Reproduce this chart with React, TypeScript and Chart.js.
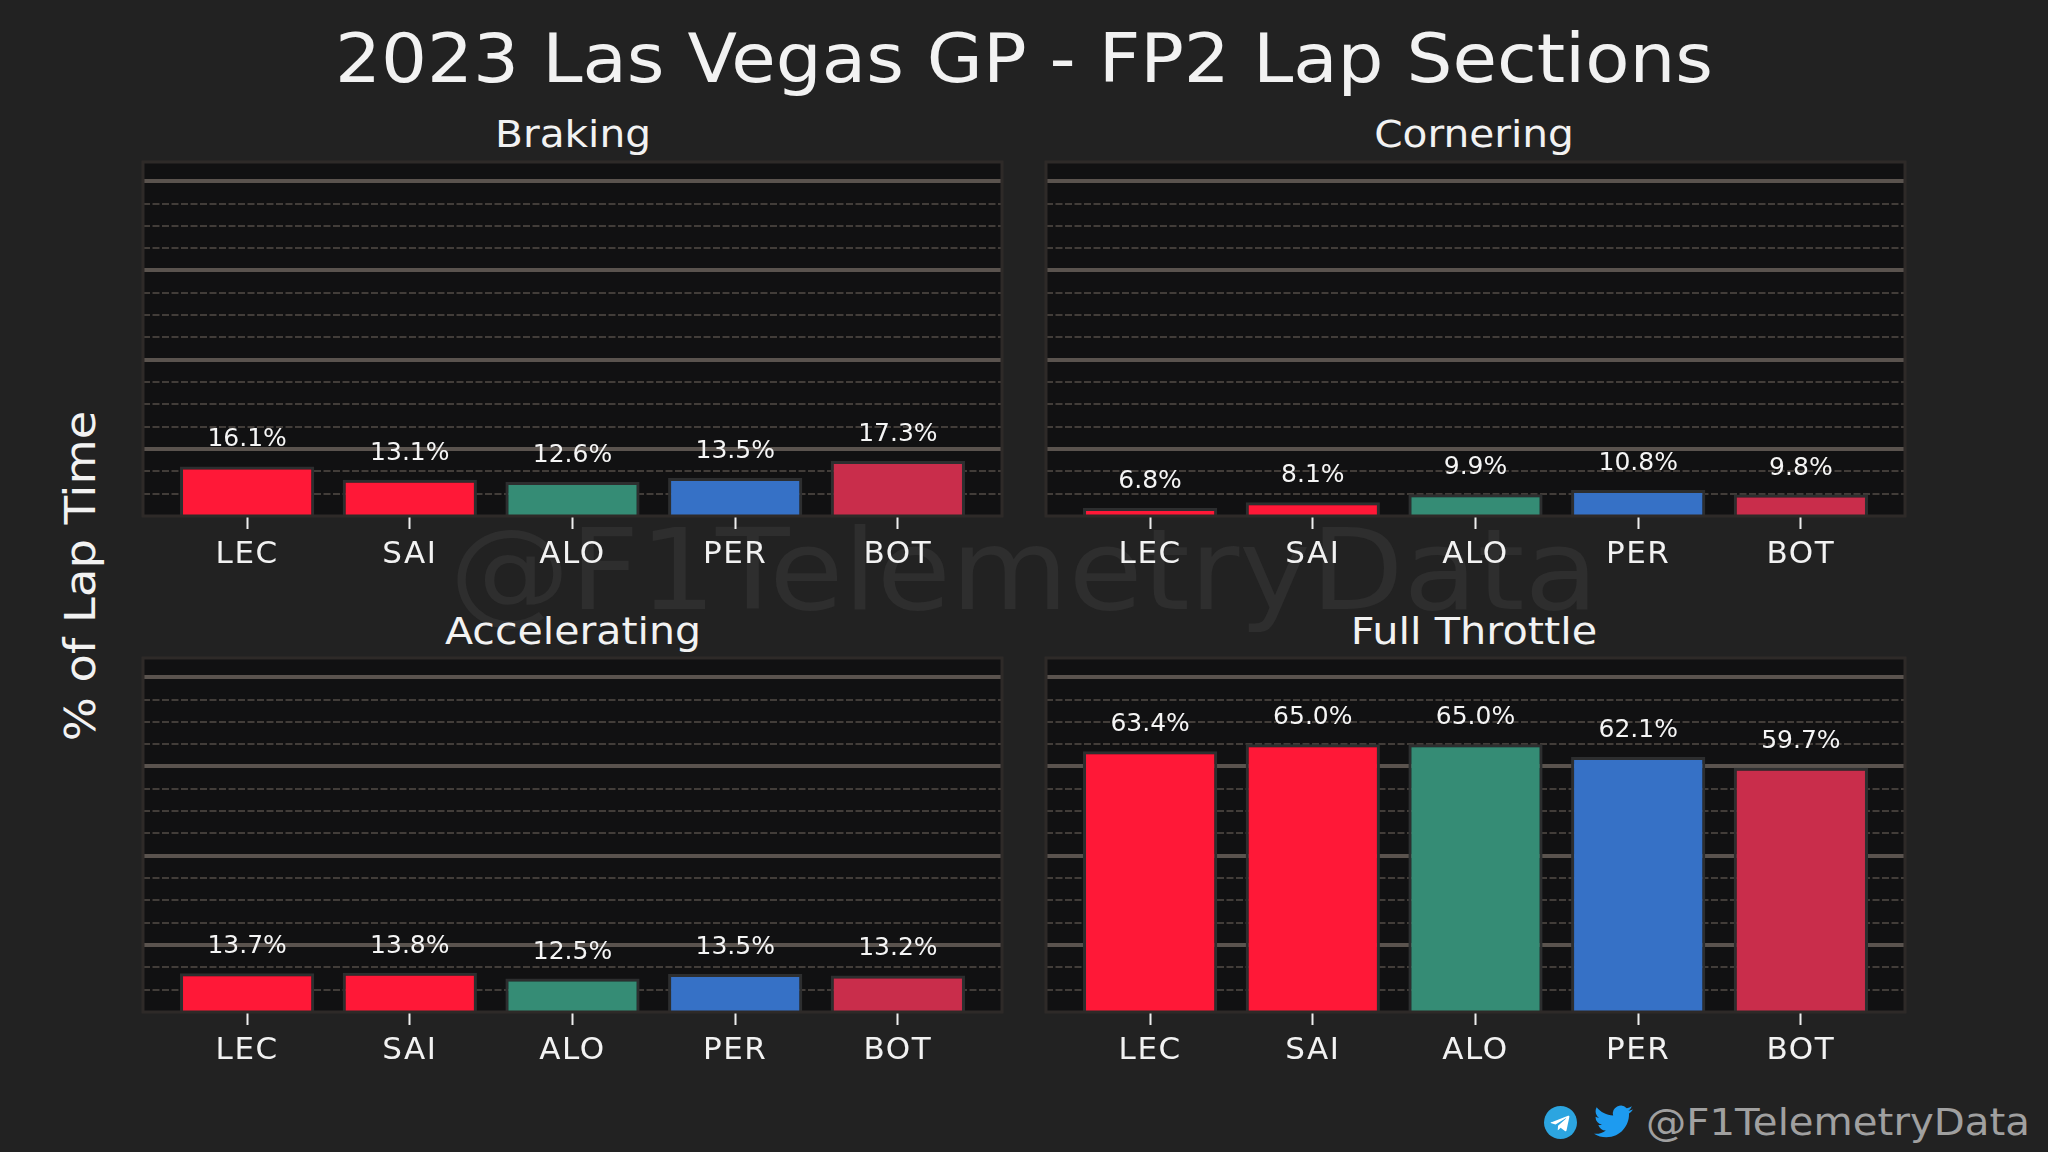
import React, { useEffect, useRef } from 'react';
import { Chart, registerables } from 'chart.js';
Chart.register(...registerables);

const drivers = ['LEC', 'SAI', 'ALO', 'PER', 'BOT'];
const driverColors = ['#ff1837', '#ff1837', '#358c75', '#3671c6', '#c92d4b'];

const brakingValues = [16.1, 13.1, 12.6, 13.5, 17.3];
const corneringValues = [6.8, 8.1, 9.9, 10.8, 9.8];
const acceleratingValues = [13.7, 13.8, 12.5, 13.5, 13.2];
const fullThrottleValues = [63.4, 65.0, 65.0, 62.1, 59.7];

const FONT = '"DejaVu Sans", sans-serif';

// plot background and frame behind the bars, value labels on top of them
const panelPlugin = {
  id: 'panel',
  beforeDraw(chart: any) {
    const { ctx, chartArea: a } = chart;
    ctx.letterSpacing = '1.5px'; // the original font is wider than anything installed
    ctx.save();
    ctx.fillStyle = '#111112';
    ctx.fillRect(a.left, a.top, a.width, a.height);
    ctx.restore();
  },
  afterDraw(chart: any) {
    const { ctx, chartArea: a } = chart;
    ctx.save();
    ctx.strokeStyle = '#2e2a28';
    ctx.lineWidth = 3;
    ctx.strokeRect(a.left, a.top, a.width, a.height);
    ctx.restore();
  },
  afterDatasetsDraw(chart: any) {
    const { ctx } = chart;
    const values = chart.data.datasets[0].data;
    ctx.save();
    ctx.letterSpacing = '0px';
    ctx.fillStyle = '#f5f5f5';
    ctx.font = `25px ${FONT}`;
    ctx.textAlign = 'center';
    ctx.textBaseline = 'bottom';
    chart.getDatasetMeta(0).data.forEach((bar: any, i: number) => {
      ctx.fillText(`${values[i].y.toFixed(1)}%`, bar.x, bar.y - 14);
    });
    ctx.restore();
  },
};

const Panel: React.FC<{ values: number[]; left: number; top: number }> = ({ values, left, top }) => {
  const canvasRef = useRef<HTMLCanvasElement>(null);

  useEffect(() => {
    if (!canvasRef.current) return;
    const chart = new Chart(canvasRef.current, {
      type: 'bar',
      data: {
        datasets: [{
          data: values.map((v, i) => ({ x: i, y: v })) as any,
          backgroundColor: driverColors,
          borderColor: '#2d2e2f',
          borderWidth: 3,
          barPercentage: 0.825,
          categoryPercentage: 1,
        }],
      },
      options: {
        responsive: false,
        animation: false,
        devicePixelRatio: 1,
        layout: { padding: { left: 2, right: 2, top: 2, bottom: 0 } },
        plugins: { legend: { display: false }, tooltip: { enabled: false } },
        scales: {
          x: {
            type: 'linear',
            min: -0.64,
            max: 4.64,
            offset: false,
            afterBuildTicks: (scale: any) => {
              scale.ticks = drivers.map((_, i) => ({ value: i }));
            },
            afterFit: (scale: any) => {
              scale.height = 70;
            },
            border: { display: false },
            grid: {
              offset: false,
              drawOnChartArea: false,
              tickLength: 13,
              tickWidth: 2,
              tickColor: '#eeeeee',
            },
            ticks: {
              autoSkip: false,
              maxRotation: 0,
              padding: 7,
              color: '#f2f2f2',
              font: { family: FONT, size: 31 },
              callback: (value: any) => drivers[value],
            },
          },
          y: {
            min: 5,
            max: 84.3,
            afterFit: (scale: any) => {
              scale.width = 0;
            },
            border: {
              display: false,
              dash: (ctx: any) => (ctx.tick && ctx.tick.value % 20 === 0 ? [] : [7, 2.5]),
            },
            grid: {
              drawTicks: false,
              color: (ctx: any) => {
                const v = ctx.tick.value;
                if (v % 5 !== 0) return 'transparent';
                return v % 20 === 0 ? '#5a534e' : '#423d39';
              },
              lineWidth: (ctx: any) => (ctx.tick && ctx.tick.value % 20 === 0 ? 4 : 2),
            },
            ticks: { display: false, stepSize: 5 },
          },
        },
      },
      plugins: [panelPlugin],
    });
    return () => chart.destroy();
  }, [values]);

  return (
    <canvas
      ref={canvasRef}
      width={863}
      height={426}
      style={{ position: 'absolute', left: left - 2, top: top - 2, width: 863, height: 426 }}
    />
  );
};

const Label: React.FC<{ x: number; y: number; size: number; stretch?: number; color?: string; rotate?: boolean; children: React.ReactNode }> = ({ x, y, size, stretch = 1, color = '#f2f2f2', rotate, children }) => (
  <div
    style={{
      position: 'absolute',
      left: x,
      top: y,
      transform: `translate(-50%, -50%)${rotate ? ' rotate(-90deg)' : ''} scaleX(${stretch})`,
      fontFamily: FONT,
      fontSize: size,
      color,
      whiteSpace: 'nowrap',
      lineHeight: 1,
    }}
  >
    {children}
  </div>
);

export default function App() {
  return (
    <div style={{ position: 'fixed', left: 0, top: 0, width: 2048, height: 1152, overflow: 'hidden', background: '#222222' }}>
      <Label x={1024} y={570} size={112} stretch={1.076} color="#2e2e2e">@F1TelemetryData</Label>

      <Label x={1024} y={59} size={68} stretch={1.064}>2023 Las Vegas GP - FP2 Lap Sections</Label>
      <Label x={573} y={134} size={38} stretch={1.07}>Braking</Label>
      <Label x={1474} y={134} size={38} stretch={1.07}>Cornering</Label>
      <Label x={573} y={631} size={38} stretch={1.08}>Accelerating</Label>
      <Label x={1474} y={631} size={38} stretch={1.09}>Full Throttle</Label>
      <Label x={80} y={576} size={43} stretch={1.08} rotate>% of Lap Time</Label>

      <Panel values={brakingValues} left={143} top={162} />
      <Panel values={corneringValues} left={1046} top={162} />
      <Panel values={acceleratingValues} left={143} top={658} />
      <Panel values={fullThrottleValues} left={1046} top={658} />

      <svg viewBox="0 0 24 24" width={33} height={33} style={{ position: 'absolute', left: 1544, top: 1106 }}>
        <circle cx="12" cy="12" r="12" fill="#2ca5e0" />
        <path fill="#ffffff" d="M5.5 11.8l12-4.7c.6-.2 1.1.1.9 1l-2 9.6c-.1.7-.6.9-1.2.5l-3.1-2.3-1.5 1.4c-.2.2-.3.3-.6.3l.2-3.2 5.7-5.2c.3-.2-.1-.3-.4-.1l-7.1 4.4-3-1c-.7-.2-.7-.6.1-.9z" />
      </svg>
      <svg viewBox="0 0 24 24" width={39} height={39} style={{ position: 'absolute', left: 1594, top: 1102 }}>
        <path fill="#1d9bf0" d="M23.953 4.57a10 10 0 01-2.825.775 4.958 4.958 0 002.163-2.723c-.951.555-2.005.959-3.127 1.184a4.92 4.92 0 00-8.384 4.482C7.69 8.095 4.067 6.13 1.64 3.162a4.822 4.822 0 00-.666 2.475c0 1.71.87 3.213 2.188 4.096a4.904 4.904 0 01-2.228-.616v.06a4.923 4.923 0 003.946 4.827 4.996 4.996 0 01-2.212.085 4.936 4.936 0 004.604 3.417 9.867 9.867 0 01-6.102 2.105c-.39 0-.779-.023-1.17-.067a13.995 13.995 0 007.557 2.209c9.053 0 13.998-7.496 13.998-13.985 0-.21 0-.42-.015-.63A9.935 9.935 0 0024 4.59z" />
      </svg>
      <Label x={1838} y={1122} size={38} stretch={1.06} color="#a0a0a0">@F1TelemetryData</Label>
    </div>
  );
}
